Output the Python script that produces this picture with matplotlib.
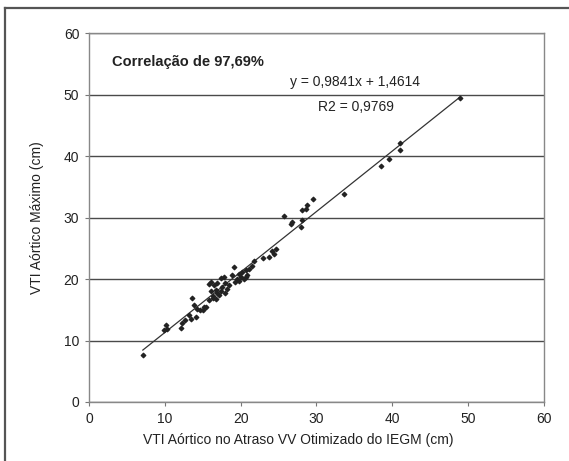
import matplotlib
matplotlib.use("Agg")
import matplotlib.pyplot as plt
from matplotlib.lines import Line2D

plt.rcParams["font.family"] = ["Liberation Sans Narrow", "Liberation Sans", "DejaVu Sans"]

# VTI values (cm)
vti_iegm = [
    7.1, 9.9, 10.1, 10.3, 12.1, 12.3, 12.6, 13.2, 13.4, 13.6,
    13.9, 14.1, 14.3, 14.7, 15.0, 15.2, 15.4, 15.8, 15.8, 16.1,
    16.1, 16.3, 16.4, 16.5, 16.7, 16.7, 16.9, 16.9, 17.2, 17.4,
    17.4, 17.6, 17.8, 18.0, 18.0, 18.2, 18.5, 18.9, 19.1, 19.3,
    19.5, 19.8, 19.8, 20.0, 20.2, 20.4, 20.7, 20.7, 20.9, 21.1,
    21.5, 21.8, 22.9, 23.7, 24.2, 24.4, 24.6, 25.7, 26.6, 26.8,
    27.9, 28.1, 28.1, 28.6, 28.8, 29.6, 33.6, 38.5, 39.5, 41.0,
    41.0, 48.9,
]
vti_max = [
    7.6, 11.7, 12.5, 11.9, 12.0, 12.8, 13.4, 14.1, 13.5, 16.9,
    15.8, 13.8, 15.2, 14.9, 15.0, 15.4, 15.5, 16.6, 19.2, 18.1,
    19.6, 16.9, 17.3, 19.0, 18.2, 16.8, 17.7, 19.3, 17.4, 18.1,
    20.1, 18.7, 20.3, 17.8, 19.3, 18.4, 19.0, 20.6, 21.9, 19.5,
    20.0, 19.7, 20.9, 20.4, 21.1, 20.0, 20.3, 21.4, 20.6, 21.6,
    22.2, 23.0, 23.5, 23.6, 24.6, 24.1, 24.9, 30.2, 29.0, 29.3,
    28.5, 29.6, 31.2, 31.4, 32.0, 33.1, 33.9, 38.4, 39.6, 41.0,
    42.1, 49.4,
]

slope = 0.9841
intercept = 1.4614

ticks = [0, 10, 20, 30, 40, 50, 60]

fig = plt.figure(figsize=(5.69, 4.61), dpi=100)
ax = fig.add_axes([0.1564, 0.128, 0.7996, 0.8])

ax.scatter(vti_iegm, vti_max, marker="D", s=5, color="#222222", zorder=3)

x0, x1 = min(vti_iegm), max(vti_iegm)
ax.plot([x0, x1], [slope * x0 + intercept, slope * x1 + intercept],
        color="#333333", lw=0.9, zorder=2)

ax.set_xlim(0, 60)
ax.set_ylim(0, 60)
ax.set_xticks(ticks)
ax.set_yticks(ticks)
ax.yaxis.grid(True, color="#4a4a4a", lw=1.0)
ax.set_axisbelow(True)
ax.tick_params(direction="out", length=3, width=0.8, color="#777777",
               labelsize=10, labelcolor="#222222", pad=4)
for s in ax.spines.values():
    s.set_color("#888888")
    s.set_linewidth(1.0)

ax.set_xlabel("VTI Aórtico no Atraso VV Otimizado do IEGM (cm)",
              fontsize=10, color="#222222")
ax.xaxis.set_label_coords(0.46, -0.085)
ax.set_ylabel("VTI Aórtico Máximo (cm)", fontsize=10, color="#222222",
              labelpad=14)

ax.text(3.0, 55.3, "Correlação de 97,69%", fontsize=10.5, fontweight="bold",
        color="#222222", ha="left", va="center")
ax.text(35.1, 52.1, "y = 0,9841x + 1,4614", fontsize=10, color="#222222",
        ha="center", va="center")
ax.text(35.2, 48.0, "R2 = 0,9769", fontsize=10, color="#222222",
        ha="center", va="center")

# outer frame (left and top edges only)
fig.add_artist(Line2D([5 / 569, 5 / 569], [0, 1 - 8 / 461],
                      transform=fig.transFigure, color="#555555", lw=1.6))
fig.add_artist(Line2D([5 / 569, 1], [1 - 8 / 461, 1 - 8 / 461],
                      transform=fig.transFigure, color="#555555", lw=1.6))

fig.savefig("out.png", dpi=100)
